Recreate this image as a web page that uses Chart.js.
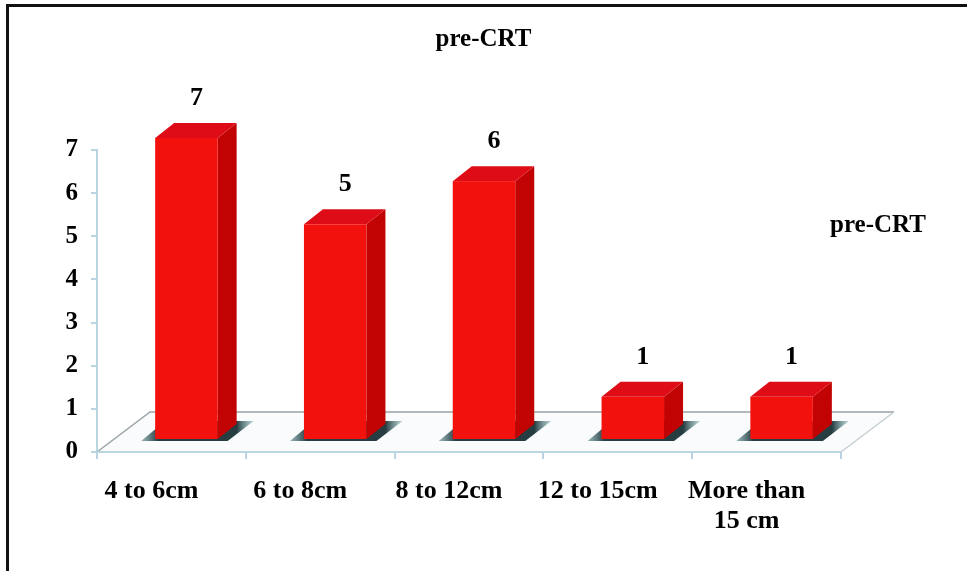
<!DOCTYPE html>
<html>
<head>
<meta charset="utf-8">
<script src="https://cdn.jsdelivr.net/npm/chart.js@4/dist/chart.umd.min.js"></script>
<style>
  html, body { margin: 0; padding: 0; background: #fff; overflow: hidden; }
  #wrap { position: relative; width: 967px; height: 571px; }
  #frame { position: absolute; left: 6px; top: 4px; right: -10px; bottom: -10px;
           border-top: 3px solid #111; border-left: 3px solid #111; pointer-events: none; }
  canvas { position: absolute; left: 0; top: 0; }
</style>
</head>
<body>
<div id="wrap">
  <canvas id="chart" width="967" height="571"></canvas>
  <div id="frame"></div>
</div>
<script>
// Tumour size groups and patient counts before CRT
const categories = ['4 to 6cm', '6 to 8cm', '8 to 12cm', '12 to 15cm', ['More than', '15 cm']];
const preCRT = [7, 5, 6, 1, 1];
const seriesName = 'pre-CRT';
const yMin = 0;
const yMax = 7;

const FONT = '"Liberation Serif", "Times New Roman", serif';

// Box styling for the pseudo-3D bars
const SHIFT = { x: 15, y: -12 };     // front face offset from the scale position
const DEPTH = { x: 19, y: -15 };     // bar depth
const FLOOR = { x: 53, y: -40 };     // floor depth
const COLORS = { front: '#f3110e', side: '#c20303', top: '#dd0c16' };

const box3d = {
  id: 'box3d',
  beforeDatasetsDraw(chart) {
    const ctx = chart.ctx;
    const area = chart.chartArea;
    const y0 = chart.scales.y.getPixelForValue(0);
    // floor
    ctx.save();
    ctx.beginPath();
    ctx.moveTo(area.left, y0);
    ctx.lineTo(area.right, y0);
    ctx.lineTo(area.right + FLOOR.x, y0 + FLOOR.y);
    ctx.lineTo(area.left + FLOOR.x, y0 + FLOOR.y);
    ctx.closePath();
    ctx.fillStyle = '#f9fbfc';
    ctx.fill();
    ctx.lineWidth = 1.5;
    ctx.strokeStyle = '#9aa3a6';
    ctx.beginPath();
    ctx.moveTo(area.left, y0);
    ctx.lineTo(area.left + FLOOR.x, y0 + FLOOR.y);
    ctx.lineTo(area.right + FLOOR.x, y0 + FLOOR.y);
    ctx.stroke();
    ctx.strokeStyle = '#c4cfd3';
    ctx.beginPath();
    ctx.moveTo(area.right, y0);
    ctx.lineTo(area.right + FLOOR.x, y0 + FLOOR.y);
    ctx.stroke();
    ctx.strokeStyle = '#b9d5df';
    ctx.lineWidth = 2;
    ctx.beginPath();
    ctx.moveTo(area.left, y0);
    ctx.lineTo(area.right, y0);
    ctx.stroke();

    // shadows cast on the floor
    const meta = chart.getDatasetMeta(0);
    meta.data.forEach((bar) => {
      const p = bar.getProps(['x', 'base', 'width'], true);
      const fl = p.x - p.width / 2 + SHIFT.x;
      const fr = p.x + p.width / 2 + SHIFT.x;
      const fb = p.base + SHIFT.y;
      const g = ctx.createLinearGradient(fl - 14, 0, fr + 36, 0);
      g.addColorStop(0, 'rgba(60,110,115,0.5)');
      g.addColorStop(0.15, 'rgba(15,40,45,0.9)');
      g.addColorStop(0.85, 'rgba(15,40,45,0.9)');
      g.addColorStop(1, 'rgba(90,150,150,0.4)');
      ctx.fillStyle = g;
      ctx.beginPath();
      ctx.moveTo(fl - 14, fb + 2);
      ctx.lineTo(fr + 10, fb + 2);
      ctx.lineTo(fr + 36, fb - 18);
      ctx.lineTo(fl + 10, fb - 18);
      ctx.closePath();
      ctx.fill();
    });
    ctx.restore();
  },
  afterDatasetsDraw(chart) {
    const ctx = chart.ctx;
    const meta = chart.getDatasetMeta(0);
    const values = chart.data.datasets[0].data;
    ctx.save();
    meta.data.forEach((bar, i) => {
      const p = bar.getProps(['x', 'y', 'base', 'width'], true);
      const fl = p.x - p.width / 2 + SHIFT.x;
      const fr = p.x + p.width / 2 + SHIFT.x;
      const ft = p.y + SHIFT.y;
      const fb = p.base + SHIFT.y;
      // side face
      ctx.fillStyle = COLORS.side;
      ctx.beginPath();
      ctx.moveTo(fr, ft);
      ctx.lineTo(fr + DEPTH.x, ft + DEPTH.y);
      ctx.lineTo(fr + DEPTH.x, fb + DEPTH.y);
      ctx.lineTo(fr, fb);
      ctx.closePath();
      ctx.fill();
      // top face
      ctx.fillStyle = COLORS.top;
      ctx.beginPath();
      ctx.moveTo(fl, ft);
      ctx.lineTo(fl + DEPTH.x, ft + DEPTH.y);
      ctx.lineTo(fr + DEPTH.x, ft + DEPTH.y);
      ctx.lineTo(fr, ft);
      ctx.closePath();
      ctx.fill();
      // front face
      ctx.fillStyle = COLORS.front;
      ctx.fillRect(fl, ft, fr - fl, fb - ft);
      // value label
      ctx.fillStyle = '#000';
      ctx.font = 'bold 26px ' + FONT;
      ctx.textAlign = 'center';
      ctx.textBaseline = 'middle';
      ctx.fillText(String(values[i]), (fl + fr) / 2 + 10, ft - 40);
    });
    ctx.restore();
  },
  afterDraw(chart) {
    // series name at the right
    const ctx = chart.ctx;
    ctx.save();
    ctx.fillStyle = '#000';
    ctx.font = 'bold 25px ' + FONT;
    ctx.textAlign = 'center';
    ctx.textBaseline = 'middle';
    ctx.fillText(chart.data.datasets[0].label, 878, 226);
    ctx.restore();
  }
};

new Chart(document.getElementById('chart'), {
  type: 'bar',
  data: {
    labels: categories,
    datasets: [{
      label: seriesName,
      data: preCRT,
      backgroundColor: 'rgba(0,0,0,0)',
      borderWidth: 0,
      barPercentage: 0.42,
      categoryPercentage: 1
    }]
  },
  options: {
    responsive: false,
    animation: false,
    events: [],
    layout: { padding: 0 },
    plugins: {
      legend: { display: false },
      tooltip: { enabled: false },
      title: {
        display: true,
        text: 'pre-CRT',
        color: '#000',
        font: { family: FONT, size: 25, weight: 'bold', lineHeight: 1.2 },
        padding: { top: 25, bottom: 95 }
      }
    },
    scales: {
      x: {
        offset: true,
        grid: { offset: true, drawOnChartArea: false, tickLength: 7, color: '#b9d5df', lineWidth: 2 },
        border: { color: '#b9d5df', width: 2 },
        ticks: {
          color: '#000',
          font: { family: FONT, size: 26, weight: 'bold', lineHeight: 1.15 },
          maxRotation: 0,
          autoSkip: false,
          padding: 17,
          labelOffset: -20
        },
        afterFit(scale) { scale.height = 119; }
      },
      y: {
        min: yMin,
        max: yMax,
        grid: { drawOnChartArea: false, tickLength: 6, color: '#b9d5df', lineWidth: 2 },
        border: { color: '#b9d5df', width: 2 },
        ticks: {
          stepSize: 1,
          color: '#000',
          font: { family: FONT, size: 25, weight: 'bold' },
          padding: 13
        },
        afterFit(scale) { scale.width = 97; }
      },
      // empty band on the right that holds the series name
      side: {
        position: 'right',
        display: true,
        grid: { display: false },
        border: { display: false },
        ticks: { display: false },
        afterFit(scale) { scale.width = 126; }
      }
    }
  },
  plugins: [box3d]
});
</script>
</body>
</html>
